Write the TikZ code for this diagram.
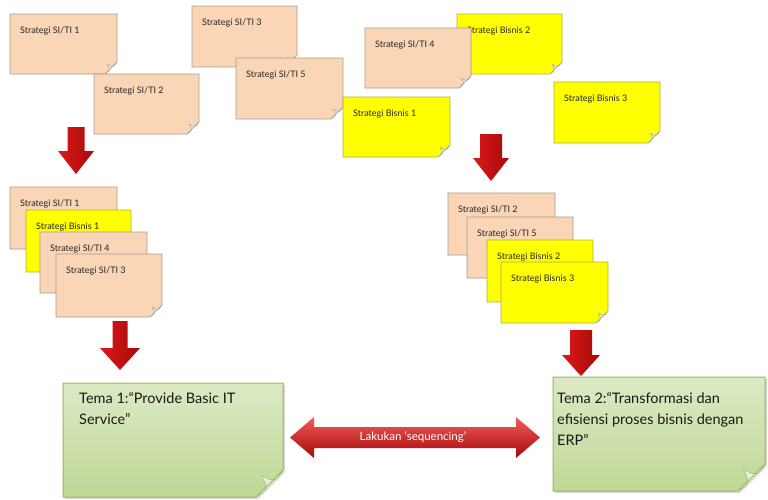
\documentclass[tikz,border=0pt]{standalone}
\usepackage{fontspec}
\setmainfont{Lato}
\usetikzlibrary{shadows}

\definecolor{peach}{RGB}{250,213,182}
\definecolor{peachdraw}{RGB}{170,155,145}
\definecolor{yel}{RGB}{255,255,0}
\definecolor{yeldraw}{RGB}{175,175,70}
\definecolor{greentop}{RGB}{220,234,196}
\definecolor{greenbot}{RGB}{192,215,150}
\definecolor{greendraw}{RGB}{150,185,100}
\definecolor{foldcol}{RGB}{236,236,236}
\definecolor{arrowred}{RGB}{220,25,25}
\definecolor{arrowlight}{RGB}{245,90,90}
\definecolor{arrowdark}{RGB}{165,10,10}

\tikzset{
  x=1pt, y=-1pt,
  peachnote/.style={fill=peach, draw=peachdraw, line width=0.6pt},
  yellownote/.style={fill=yel, draw=yeldraw, line width=0.6pt},
  greennote/.style={top color=greentop, bottom color=greenbot, draw=greendraw, line width=1pt,
     drop shadow={shadow xshift=2pt, shadow yshift=-2pt, opacity=0.3}},
  foldstyle/.style={fill=foldcol, draw=black!35, line width=0.5pt},
  notetext/.style={font=\fontsize{9}{11}\selectfont, text=black!85, anchor=west, inner sep=0pt},
  tematext/.style={font=\fontsize{14.5}{21}\selectfont, text=black!90, anchor=north west, inner sep=0pt, align=left},
  redarrow/.style={left color=arrowred, middle color=arrowlight, right color=arrowdark, draw=none},
  redarrowh/.style={top color=arrowlight, middle color=arrowred, bottom color=arrowdark, draw=none},
}

% name, x1, y1, x2, y2, style, text
\newcommand\stickynote[7]{%
  \path[#6] (#2,#3) -- (#4,#3) -- (#4,#5-\fs) -- (#4-\fs,#5) -- (#2,#5) -- cycle;
  \path[foldstyle] (#4,#5-\fs) .. controls (#4-0.3*\fs,#5-0.55*\fs) .. (#4-0.8*\fs,#5-0.8*\fs)
     .. controls (#4-0.55*\fs,#5-0.3*\fs) .. (#4-\fs,#5) -- cycle;
  \node[notetext] (#1) at (#2+10,#3+17) {#7};
}
% cx, shaft half, head half, top, head start, tip
\newcommand\redarrowdown[6]{%
  \path[redarrow] (#1-#2,#4) -- (#1+#2,#4) -- (#1+#2,#5) -- (#1+#3,#5) -- (#1,#6)
     -- (#1-#3,#5) -- (#1-#2,#5) -- cycle;
}
\def\fs{12}

\begin{document}
\begin{tikzpicture}
\useasboundingbox (0,0) rectangle (768,499);

% top row
\stickynote{s1}{10}{14}{117}{74}{peachnote}{Strategi SI/TI 1}
\stickynote{s2}{94}{74}{199}{134}{peachnote}{Strategi SI/TI 2}
\stickynote{s3}{192}{6}{297}{67}{peachnote}{Strategi SI/TI 3}
\stickynote{s5}{236}{58}{343}{119}{peachnote}{Strategi SI/TI 5}
\stickynote{b2}{457}{14}{562}{74}{yellownote}{Strategi Bisnis 2}
\stickynote{s4}{365}{28}{471}{88}{peachnote}{Strategi SI/TI 4}
\stickynote{b1}{343}{97}{450}{157}{yellownote}{Strategi Bisnis 1}
\stickynote{b3}{554}{82}{660}{143}{yellownote}{Strategi Bisnis 3}

% top arrows
\redarrowdown{76}{8.5}{18}{127}{151}{174}
\redarrowdown{491}{11}{18}{134}{158}{181}

% left stack
\stickynote{ls1}{10}{187}{117}{249}{peachnote}{Strategi SI/TI 1}
\stickynote{lb1}{26}{210}{131}{272}{yellownote}{Strategi Bisnis 1}
\stickynote{ls4}{40}{232}{147}{293}{peachnote}{Strategi SI/TI 4}
\stickynote{ls3}{56}{254}{162}{317}{peachnote}{Strategi SI/TI 3}

% right stack
\stickynote{rs2}{448}{193}{555}{255}{peachnote}{Strategi SI/TI 2}
\stickynote{rs5}{467}{217}{573}{278}{peachnote}{Strategi SI/TI 5}
\stickynote{rb2}{487}{240}{593}{302}{yellownote}{Strategi Bisnis 2}
\stickynote{rb3}{501}{262}{608}{323}{yellownote}{Strategi Bisnis 3}

% lower arrows
\redarrowdown{120}{7.5}{20}{321}{348}{370}
\redarrowdown{581}{11}{19}{330}{355}{376}

% green themes
\def\fs{27}
\path[greennote] (63,383) -- (283,383) -- (283,497-\fs) -- (283-\fs,497) -- (63,497) -- cycle;
\path[foldstyle, fill=greentop!70!white, draw=greendraw] (283,497-\fs) .. controls (283-0.3*\fs,497-0.55*\fs) .. (283-0.8*\fs,497-0.8*\fs)
     .. controls (283-0.55*\fs,497-0.3*\fs) .. (283-\fs,497) -- cycle;
\node[tematext] (t1) at (79,392) {Tema 1:“Provide Basic IT\\Service”};

\path[greennote] (553,377) -- (765,377) -- (765,491-\fs) -- (765-\fs,491) -- (553,491) -- cycle;
\path[foldstyle, fill=greentop!70!white, draw=greendraw] (765,491-\fs) .. controls (765-0.3*\fs,491-0.55*\fs) .. (765-0.8*\fs,491-0.8*\fs)
     .. controls (765-0.55*\fs,491-0.3*\fs) .. (765-\fs,491) -- cycle;
\node[tematext] (t2) at (557,392) {Tema 2:“Transformasi dan\\efisiensi proses bisnis dengan\\ERP”};

% double arrow
\path[redarrowh] (290,437.5) -- (314,417) -- (314,427) -- (516,427) -- (516,417) -- (540,437.5)
   -- (516,458) -- (516,448) -- (314,448) -- (314,458) -- cycle;
\node[font=\fontsize{11.5}{13}\selectfont, text=white] (seq) at (413,437.5) {Lakukan ‘sequencing’};
\end{tikzpicture}
\end{document}
